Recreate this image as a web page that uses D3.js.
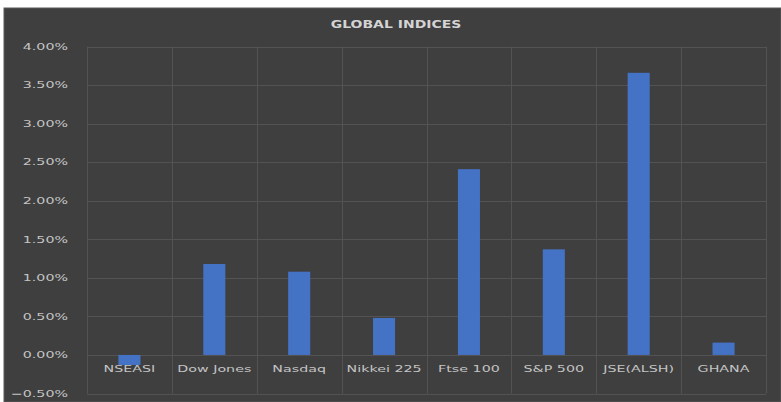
<!DOCTYPE html>
<html>
<head>
  <meta charset="utf-8">
  <script src="https://d3js.org/d3.v7.min.js"></script>
  <style>
    body {
      margin: 0;
      background: #ffffff;
      font-family: "DejaVu Sans", sans-serif;
    }
    .tick_label, .cat_label {
      fill: #c4c4c4;
      font-size: 9.5px;
    }
    .title {
      fill: #d4d4d4;
      font-size: 10px;
      font-weight: bold;
    }
    .grid {
      stroke: #535353;
      stroke-width: 1;
    }
  </style>
  <title>Global Indices</title>
</head>
<body>
  <svg></svg>
  <script>
    const indices = ["NSEASI", "Dow Jones", "Nasdaq", "Nikkei 225", "Ftse 100", "S&P 500", "JSE(ALSH)", "GHANA"]
    const returns = [-0.0013, 0.0118, 0.0108, 0.0048, 0.0241, 0.0137, 0.0366, 0.0016]
    const yTicks = [-0.005, 0, 0.005, 0.01, 0.015, 0.02, 0.025, 0.03, 0.035, 0.04]

    const width = 781
    const height = 402
    const stretch = 1.5

    const svg = d3.select("svg")
      .attr("width", width)
      .attr("height", height)

    svg.append("rect")
      .attr("x", 4)
      .attr("y", 8)
      .attr("width", width - 4)
      .attr("height", height - 8)
      .attr("fill", "#3f3f3f")
      .attr("stroke", "#5a5a5a")
      .attr("stroke-width", 1)

    const xScale = d3.scaleBand()
      .domain(indices)
      .range([87, 766])
      .paddingInner(0.74)
      .paddingOuter(0.37)

    const bandEdges = d3.scaleLinear()
      .domain([0, indices.length])
      .range([87, 766])

    const yScale = d3.scaleLinear()
      .domain([-0.005, 0.04])
      .range([393.5, 46.6])

    // horizontal gridlines
    svg.selectAll(".hgrid")
      .data(yTicks)
      .enter()
      .append("line")
      .attr("class", "grid")
      .attr("x1", 87)
      .attr("x2", 766)
      .attr("y1", d => Math.round(yScale(d)) + 0.5)
      .attr("y2", d => Math.round(yScale(d)) + 0.5)

    // vertical gridlines between categories
    svg.selectAll(".vgrid")
      .data(d3.range(indices.length + 1))
      .enter()
      .append("line")
      .attr("class", "grid")
      .attr("x1", d => Math.round(bandEdges(d)) + 0.5)
      .attr("x2", d => Math.round(bandEdges(d)) + 0.5)
      .attr("y1", yScale(0.04))
      .attr("y2", yScale(-0.005))

    const fmt = d3.format(".2%")

    svg.selectAll(".tick_label")
      .data(yTicks)
      .enter()
      .append("text")
      .attr("class", "tick_label")
      .attr("text-anchor", "end")
      .attr("dominant-baseline", "middle")
      .attr("transform", d => `translate(68,${yScale(d) + 0.5}) scale(${stretch},1)`)
      .text(d => fmt(d))

    svg.selectAll(".bar")
      .data(returns)
      .enter()
      .append("rect")
      .attr("class", "bar")
      .attr("x", (d, i) => xScale(indices[i]))
      .attr("width", xScale.bandwidth())
      .attr("y", d => yScale(Math.max(0, d)))
      .attr("height", d => Math.abs(yScale(d) - yScale(0)))
      .attr("fill", "#4472c4")

    svg.selectAll(".cat_label")
      .data(indices)
      .enter()
      .append("text")
      .attr("class", "cat_label")
      .attr("text-anchor", "middle")
      .attr("dominant-baseline", "middle")
      .attr("transform", d => `translate(${xScale(d) + xScale.bandwidth() / 2},369) scale(${stretch},1)`)
      .text(d => d)

    svg.append("text")
      .attr("class", "title")
      .attr("text-anchor", "middle")
      .attr("dominant-baseline", "middle")
      .attr("transform", `translate(396,25) scale(1.4,1)`)
      .text("GLOBAL INDICES")
  </script>
</body>
</html>
